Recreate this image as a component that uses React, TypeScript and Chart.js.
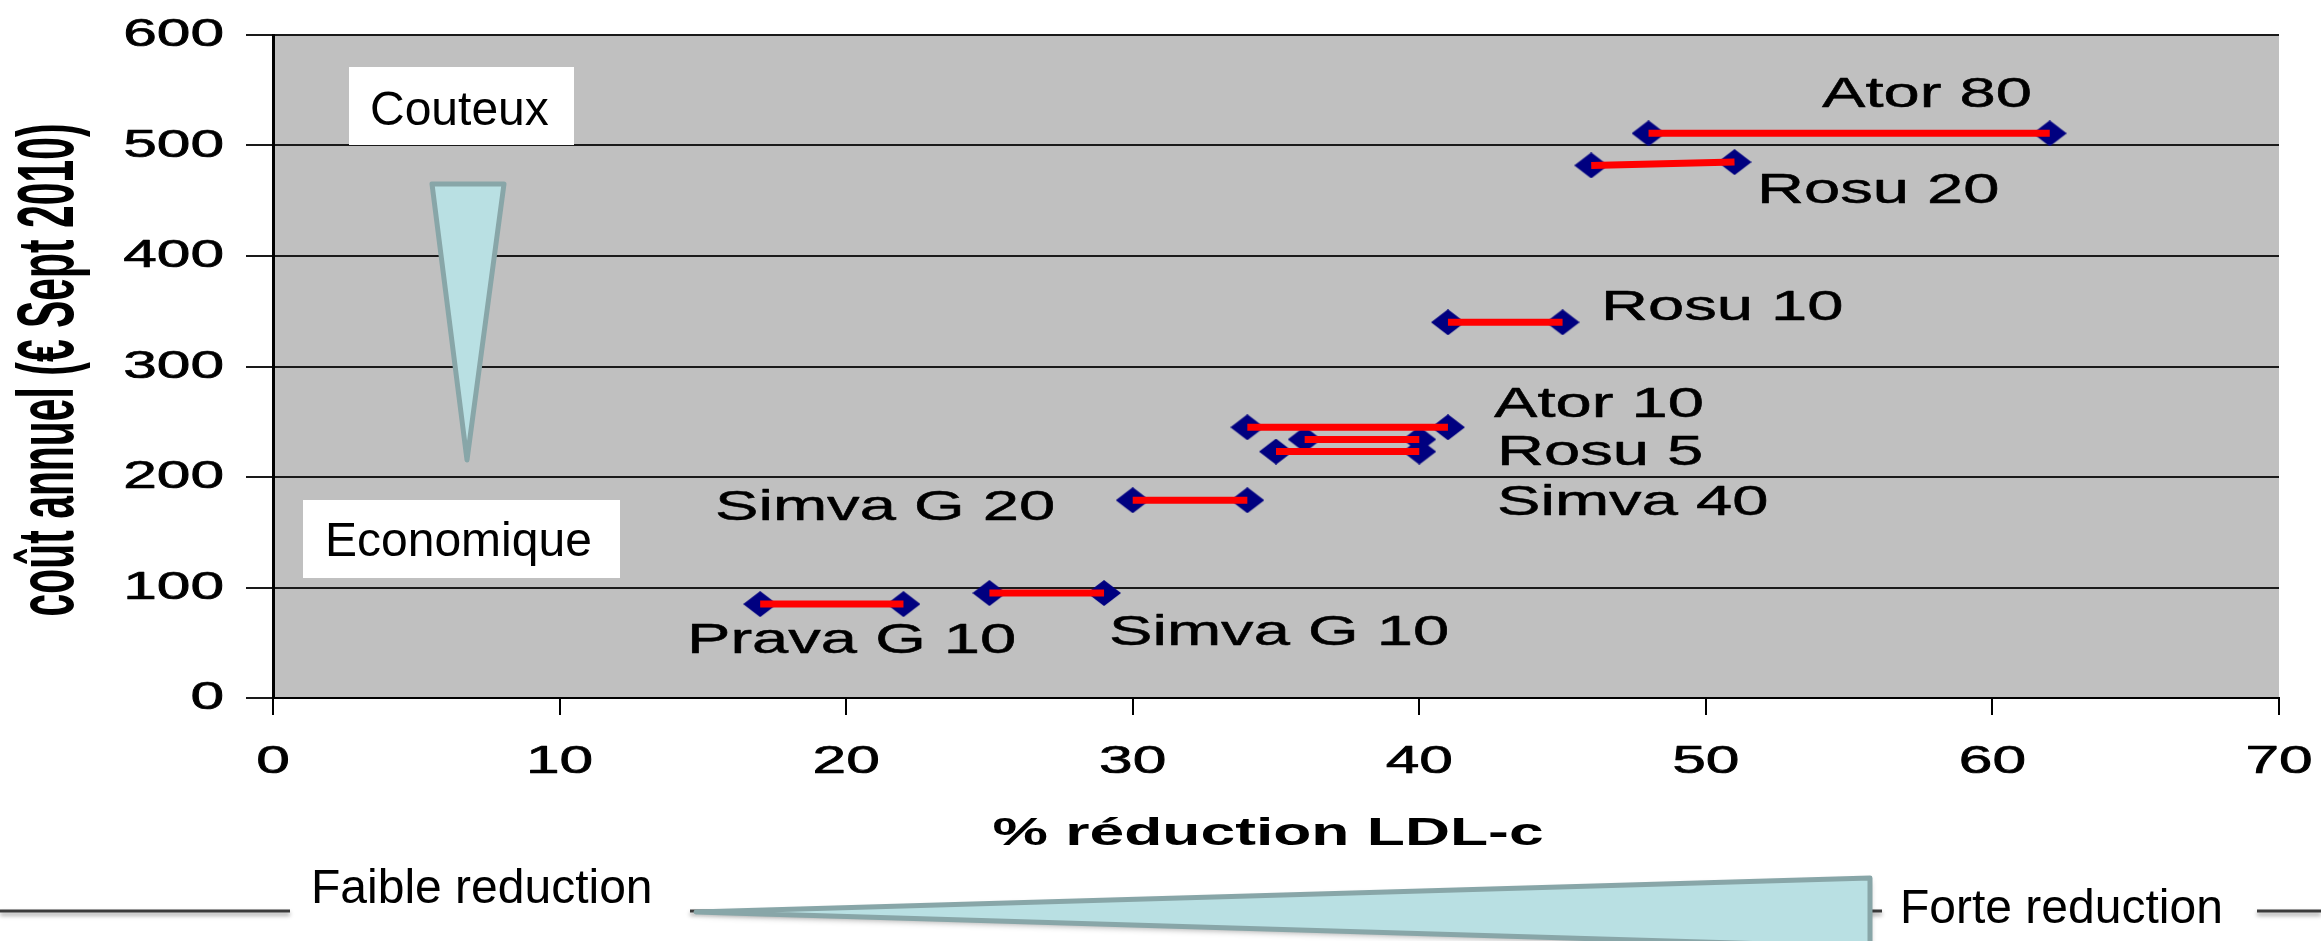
import { useEffect, useRef } from 'react';
import { Chart, registerables } from 'chart.js';

Chart.register(...registerables);

// Statins: % LDL-c reduction range and annual cost (€, Sept 2010)
const drugs = ['Prava G 10', 'Simva G 10', 'Simva G 20', 'Simva 40', 'Rosu 5', 'Ator 10', 'Rosu 10', 'Rosu 20', 'Ator 80'];
const reductionLow = [17, 25, 30, 35, 36, 34, 41, 46, 48];
const reductionHigh = [22, 29, 34, 40, 40, 41, 45, 51, 62];
const costLow = [85, 95, 179, 223, 234, 245, 340, 482, 511];
const costHigh = [85, 95, 179, 223, 234, 245, 340, 485, 511];

const xTickValues = [0, 10, 20, 30, 40, 50, 60, 70];
const yTickValues = [0, 100, 200, 300, 400, 500, 600];

const xTitle = '% réduction LDL-c';
const yTitle = 'coût annuel (€ Sept 2010)';
const costlyText = 'Couteux';
const cheapText = 'Economique';
const lowText = 'Faible reduction';
const highText = 'Forte reduction';

// Canvas-pixel anchors (left, baseline) for each drug's name
const labelAnchors: [number, number][] = [
  [687, 653], [1109, 645], [715, 520], [1497, 515], [1497, 465],
  [1494, 417], [1601, 320], [1757, 203], [1822, 107],
];

const W = 2321;
const H = 941;
const FONT = '"Liberation Sans", Arial, sans-serif';
const WIDE = 1.55;

function wideText(
  ctx: CanvasRenderingContext2D, text: string, x: number, y: number,
  size: number, sx: number, align: CanvasTextAlign, bold = false, heavy = 0,
) {
  ctx.save();
  ctx.translate(x, y);
  ctx.scale(sx, 1);
  ctx.font = `${bold ? 'bold ' : ''}${size}px ${FONT}`;
  ctx.textAlign = align;
  ctx.textBaseline = 'alphabetic';
  ctx.fillStyle = '#000';
  ctx.fillText(text, 0, 0);
  if (heavy > 0) {
    ctx.strokeStyle = '#000';
    ctx.lineWidth = heavy;
    ctx.lineJoin = 'round';
    ctx.strokeText(text, 0, 0);
  }
  ctx.restore();
}

function wedge(ctx: CanvasRenderingContext2D, pts: [number, number][], shadow: boolean) {
  ctx.save();
  if (shadow) {
    ctx.shadowColor = 'rgba(0,0,0,0.35)';
    ctx.shadowBlur = 6;
    ctx.shadowOffsetY = 3;
  }
  ctx.beginPath();
  ctx.moveTo(pts[0][0], pts[0][1]);
  for (let i = 1; i < pts.length; i++) ctx.lineTo(pts[i][0], pts[i][1]);
  ctx.closePath();
  ctx.fillStyle = '#b9e0e3';
  ctx.fill();
  ctx.shadowColor = 'transparent';
  ctx.lineJoin = 'round';
  ctx.lineWidth = 5;
  ctx.strokeStyle = '#88a6a8';
  ctx.stroke();
  ctx.restore();
}

function boxedText(ctx: CanvasRenderingContext2D, text: string, bx: number, by: number, bw: number, bh: number, tx: number, ty: number) {
  ctx.save();
  ctx.fillStyle = '#fff';
  ctx.fillRect(bx, by, bw, bh);
  ctx.font = `48px ${FONT}`;
  ctx.fillStyle = '#000';
  ctx.textAlign = 'left';
  ctx.textBaseline = 'alphabetic';
  ctx.fillText(text, tx, ty);
  ctx.restore();
}

const decorations = {
  id: 'decorations',
  beforeDraw(chart: Chart) {
    const { ctx, chartArea: a } = chart;
    ctx.save();
    ctx.fillStyle = '#fff';
    ctx.fillRect(0, 0, W, H);
    ctx.fillStyle = '#c0c0c0';
    ctx.fillRect(a.left, a.top, a.right - a.left, a.bottom - a.top);
    ctx.restore();
  },
  afterDraw(chart: Chart) {
    const { ctx } = chart;
    const xs = chart.scales.x;
    const ys = chart.scales.y;

    // tick labels
    yTickValues.forEach((v) => wideText(ctx, String(v), 224, ys.getPixelForValue(v) + 11, 39, WIDE, 'right', false, 0.7));
    xTickValues.forEach((v) => wideText(ctx, String(v), xs.getPixelForValue(v), 773, 39, WIDE, 'center', false, 0.7));

    // axis titles
    wideText(ctx, xTitle, 1268, 845, 39, 1.6, 'center', true);
    ctx.save();
    ctx.font = `bold 80px ${FONT}`;
    const tw = ctx.measureText(yTitle).width;
    ctx.translate(73, 370);
    ctx.rotate(-Math.PI / 2);
    ctx.scale(493 / tw, 1);
    ctx.textAlign = 'center';
    ctx.textBaseline = 'alphabetic';
    ctx.fillStyle = '#000';
    ctx.fillText(yTitle, 0, 0);
    ctx.restore();

    // drug names
    drugs.forEach((name, i) => wideText(ctx, name, labelAnchors[i][0], labelAnchors[i][1], 42, WIDE, 'left', false, 0.5));

    // cost scale: boxes and downward wedge
    boxedText(ctx, costlyText, 349, 67, 225, 78, 370, 125);
    boxedText(ctx, cheapText, 303, 500, 317, 78, 325, 556);
    wedge(ctx, [[432, 184], [504, 184], [467, 460]], false);

    // reduction scale: rule, labels and widening wedge
    ctx.save();
    ctx.shadowColor = 'rgba(0,0,0,0.4)';
    ctx.shadowBlur = 4;
    ctx.shadowOffsetY = 3;
    ctx.strokeStyle = '#3a3a3a';
    ctx.lineWidth = 3;
    ctx.beginPath();
    ctx.moveTo(0, 911); ctx.lineTo(290, 911);
    ctx.moveTo(690, 911); ctx.lineTo(1882, 911);
    ctx.moveTo(2257, 911); ctx.lineTo(W, 911);
    ctx.stroke();
    ctx.restore();
    wedge(ctx, [[696, 912], [1870, 878], [1870, 947]], true);
    ctx.save();
    ctx.font = `48px ${FONT}`;
    ctx.fillStyle = '#000';
    ctx.textBaseline = 'alphabetic';
    ctx.fillText(lowText, 311, 903);
    ctx.fillText(highText, 1900, 923);
    ctx.restore();
  },
};

export default function App() {
  const ref = useRef<HTMLCanvasElement | null>(null);

  useEffect(() => {
    document.body.style.margin = '0';
    document.body.style.overflow = 'hidden';
    const canvas = ref.current;
    if (!canvas) return;

    // wide navy diamond marker
    const diamond = document.createElement('canvas');
    diamond.width = 34;
    diamond.height = 26;
    const g = diamond.getContext('2d')!;
    g.fillStyle = '#000080';
    g.beginPath();
    g.moveTo(0, 13); g.lineTo(17, 0); g.lineTo(34, 13); g.lineTo(17, 26);
    g.closePath();
    g.fill();

    const pairs = drugs.map((_, i) => [
      { x: reductionLow[i], y: costLow[i] },
      { x: reductionHigh[i], y: costHigh[i] },
    ]);

    const markers = drugs.map((name, i) => ({
      label: name,
      data: pairs[i],
      showLine: false,
      pointStyle: diamond,
      pointRadius: 6,
      order: 2,
    }));
    const segments = drugs.map((name, i) => ({
      label: name + ' (écart)',
      data: pairs[i],
      showLine: true,
      borderColor: '#ff0000',
      borderWidth: 7,
      pointRadius: 0,
      order: 1,
    }));

    const chart = new Chart(canvas, {
      type: 'scatter',
      data: { datasets: [...segments, ...markers] as any },
      plugins: [decorations as any],
      options: {
        responsive: false,
        animation: false,
        events: [],
        layout: { padding: { top: 35, right: 42, left: 0, bottom: 0 } },
        plugins: { legend: { display: false }, tooltip: { enabled: false } },
        scales: {
          x: {
            type: 'linear',
            min: 0,
            max: 70,
            ticks: { stepSize: 10, display: false },
            grid: { drawOnChartArea: false, drawTicks: true, tickLength: 17, color: '#000', lineWidth: 2 },
            border: { display: true, color: '#000', width: 2 },
            afterFit: (s: any) => { s.height = H - 698; },
          },
          y: {
            type: 'linear',
            min: 0,
            max: 600,
            ticks: { stepSize: 100, display: false },
            grid: { drawOnChartArea: true, drawTicks: true, tickLength: 27, color: '#1a1a1a', lineWidth: 2 },
            border: { display: true, color: '#000', width: 3 },
            afterFit: (s: any) => { s.width = 273; },
          },
        },
      },
    });
    return () => chart.destroy();
  }, []);

  return (
    <div style={{ position: 'absolute', left: 0, top: 0, width: W, height: H }}>
      <canvas ref={ref} width={W} height={H} style={{ display: 'block', width: W, height: H }} />
    </div>
  );
}
